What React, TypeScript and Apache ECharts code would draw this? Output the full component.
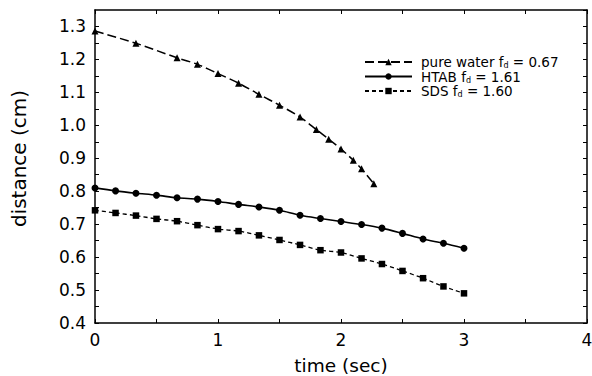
import React, { useEffect, useRef } from "react";
import * as echarts from "echarts";

// time (sec) for the pure-water series
const waterTime = [0, 0.333, 0.667, 0.833, 1.0, 1.167, 1.333, 1.5, 1.667, 1.8, 1.9, 2.0, 2.1, 2.167, 2.267];
const waterDist = [1.286, 1.249, 1.205, 1.185, 1.157, 1.128, 1.094, 1.061, 1.025, 0.987, 0.958, 0.928, 0.894, 0.868, 0.823];

// time (sec) for HTAB and SDS
const surfTime = [0, 0.167, 0.333, 0.5, 0.667, 0.833, 1.0, 1.167, 1.333, 1.5, 1.667, 1.833, 2.0, 2.167, 2.333, 2.5, 2.667, 2.833, 3.0];
const htabDist = [0.81, 0.801, 0.794, 0.788, 0.78, 0.776, 0.769, 0.76, 0.752, 0.742, 0.727, 0.717, 0.708, 0.699, 0.688, 0.672, 0.655, 0.642, 0.627];
const sdsDist = [0.742, 0.734, 0.726, 0.716, 0.709, 0.697, 0.685, 0.679, 0.666, 0.652, 0.637, 0.621, 0.614, 0.596, 0.579, 0.558, 0.536, 0.511, 0.49];

const seriesNames = ["pure water", "HTAB", "SDS"];
const legendLabels: Record<string, string> = {
  "pure water": "{t|pure water f}{s|d}{t| = 0.67}",
  HTAB: "{t|HTAB f}{s|d}{t| = 1.61}",
  SDS: "{t|SDS f}{s|d}{t| = 1.60}",
};

const X_MIN = 0, X_MAX = 4, X_STEP = 0.5;
const Y_MIN = 0.4, Y_MAX = 1.35, Y_STEP = 0.05;

const FONT = "'DejaVu Sans', sans-serif";

const zip = (xs: number[], ys: number[]) => xs.map((x, i) => [x, ys[i]]);

export default function App() {
  const ref = useRef<HTMLDivElement>(null);
  useEffect(() => {
    if (!ref.current) return;
    const chart = echarts.init(ref.current, null, { renderer: "svg" });
    const axisLine = { show: true, onZero: false, lineStyle: { color: "#000", width: 1.5 } };
    const axisTick = { show: true, inside: true, length: 4, lineStyle: { color: "#000", width: 1 } };
    const xFmt = (v: number) => (Math.abs(v - Math.round(v)) < 1e-6 ? String(Math.round(v)) : "");
    const yFmt = (v: number) => (Math.round(v * 100) % 10 === 0 ? v.toFixed(1) : "");
    const baseX = { type: "value", min: X_MIN, max: X_MAX, interval: X_STEP, axisLine, axisTick, splitLine: { show: false } };
    const baseY = { type: "value", min: Y_MIN, max: Y_MAX, interval: Y_STEP, axisLine, axisTick, splitLine: { show: false } };
    const option: any = {
      animation: false,
      grid: { left: 95, right: 5, top: 10, bottom: 53, containLabel: false, outerBoundsMode: "none" },
      xAxis: [
        {
          ...baseX,
          position: "bottom",
          axisLabel: { formatter: xFmt, color: "#000", fontSize: 17, fontFamily: FONT, margin: 8 },
          name: "time (sec)",
          nameLocation: "middle",
          nameGap: 32,
          nameTextStyle: { color: "#000", fontSize: 18.5, fontFamily: FONT, lineHeight: 20 },
        },
        { ...baseX, position: "top", axisLabel: { show: false } },
      ],
      yAxis: [
        {
          ...baseY,
          position: "left",
          axisLabel: { formatter: yFmt, color: "#000", fontSize: 17, fontFamily: FONT, margin: 9, showMaxLabel: false },
          name: "distance (cm)",
          nameLocation: "middle",
          nameGap: 66,
          nameTextStyle: { color: "#000", fontSize: 20, fontFamily: FONT, padding: [0, 0, 0, 16] },
        },
        { ...baseY, position: "right", axisLabel: { show: false } },
      ],
      legend: {
        orient: "vertical",
        left: 359,
        top: 50,
        itemWidth: 47,
        itemHeight: 8,
        itemGap: 0,
        data: seriesNames,
        formatter: (name: string) => legendLabels[name],
        textStyle: {
          color: "#000",
          fontFamily: FONT,
          fontSize: 13.5,
          padding: [0, 0, 0, 4],
          rich: {
            t: { fontSize: 13.5, fontFamily: FONT, color: "#000", lineHeight: 15 },
            s: { fontSize: 8, fontFamily: FONT, color: "#000", verticalAlign: "bottom" },
          },
        },
      },
      series: [
        {
          name: seriesNames[0],
          type: "line",
          data: zip(waterTime, waterDist),
          smooth: 0.3,
          symbol: "triangle",
          symbolSize: 7,
          itemStyle: { color: "#000" },
          lineStyle: { color: "#000", width: 1.5, type: [9, 4] },
        },
        {
          name: seriesNames[1],
          type: "line",
          data: zip(surfTime, htabDist),
          smooth: 0.3,
          symbol: "circle",
          symbolSize: 7,
          itemStyle: { color: "#000" },
          lineStyle: { color: "#000", width: 1.6, type: "solid" },
        },
        {
          name: seriesNames[2],
          type: "line",
          data: zip(surfTime, sdsDist),
          smooth: 0.3,
          symbol: "rect",
          symbolSize: 6.5,
          itemStyle: { color: "#000" },
          lineStyle: { color: "#000", width: 1.3, type: [4, 3] },
        },
      ],
    };
    chart.setOption(option);
    return () => chart.dispose();
  }, []);
  return (
    <div
      ref={ref}
      style={{ position: "fixed", left: 0, top: 0, width: 592, height: 376, background: "#fff" }}
    />
  );
}
